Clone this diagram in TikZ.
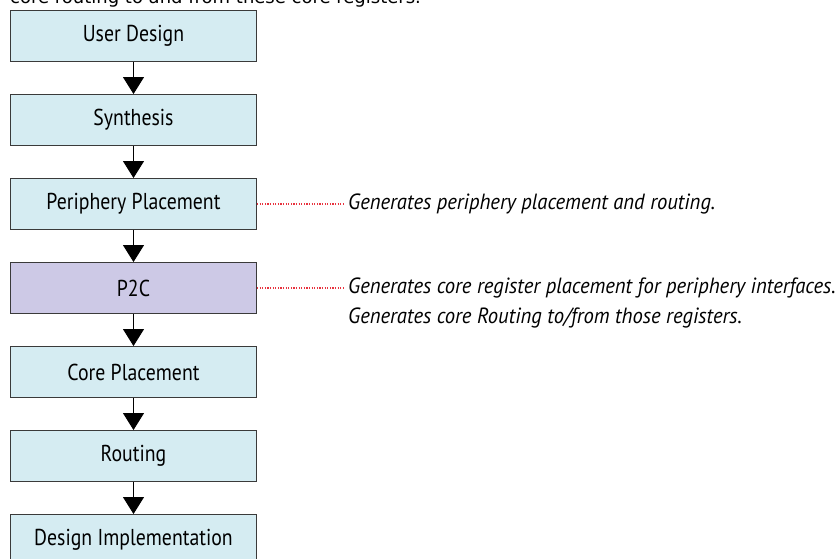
\documentclass[tikz,border=0pt]{standalone}
\usepackage{fontspec}
\setmainfont{PT Sans}[FakeStretch=0.86]
\newfontfamily\notefont{PT Sans}[FakeStretch=0.94]
\newfontfamily\topfont{DejaVu Sans}
\usetikzlibrary{arrows.meta}
\definecolor{boxblue}{HTML}{D5ECF2}
\definecolor{boxpurple}{HTML}{CDC9E6}
\definecolor{edgegray}{HTML}{3A3A3A}
\definecolor{dotred}{HTML}{E8333F}
\tikzset{
  flowbox/.style={draw=edgegray, line width=0.9pt, fill=boxblue, minimum width=246pt, minimum height=51pt, inner sep=0pt, font=\fontsize{23}{26}\selectfont},
  flowarrow/.style={draw=black, line width=0.9pt, -{Triangle[width=21pt,length=17pt]}},
  noteline/.style={draw=dotred, line width=1.3pt, dash pattern=on 1.3pt off 1.3pt},
  notetext/.style={anchor=west, inner sep=0pt, font=\notefont\fontsize{22}{26}\selectfont\itshape}
}
\begin{document}
\begin{tikzpicture}[x=1pt, y=-1pt]
\useasboundingbox (0,0) rectangle (839,559);
\node[anchor=base west, inner sep=0pt, font=\topfont\fontsize{18}{20}\selectfont] (toptext) at (10,4) {core routing to and from these core registers.};
\node[flowbox] (ud) at (133.5,36) {User Design};
\node[flowbox] (syn) at (133.5,120) {Synthesis};
\node[flowbox] (pp) at (133.5,204) {Periphery Placement};
\node[flowbox, fill=boxpurple] (p2c) at (133.5,288) {P2C};
\node[flowbox] (cp) at (133.5,372) {Core Placement};
\node[flowbox] (rt) at (133.5,456) {Routing};
\node[flowbox] (di) at (133.5,540) {Design Implementation};
\draw[flowarrow] (ud) -- (syn);
\draw[flowarrow] (syn) -- (pp);
\draw[flowarrow] (pp) -- (p2c);
\draw[flowarrow] (p2c) -- (cp);
\draw[flowarrow] (cp) -- (rt);
\draw[flowarrow] (rt) -- (di);
\coordinate (ppend) at (344,204);
\coordinate (p2cend) at (344,288);
\draw[noteline] (pp.east) -- (ppend);
\draw[noteline] (p2c.east) -- (p2cend);
\node[notetext] (ppnote) at (348,204) {Generates periphery placement and routing.};
\node[notetext] (p2cnote) at (348,288) {Generates core register placement for periphery interfaces.};
\node[notetext] (p2cnote2) at (348,318) {Generates core Routing to/from those registers.};
\end{tikzpicture}
\end{document}
